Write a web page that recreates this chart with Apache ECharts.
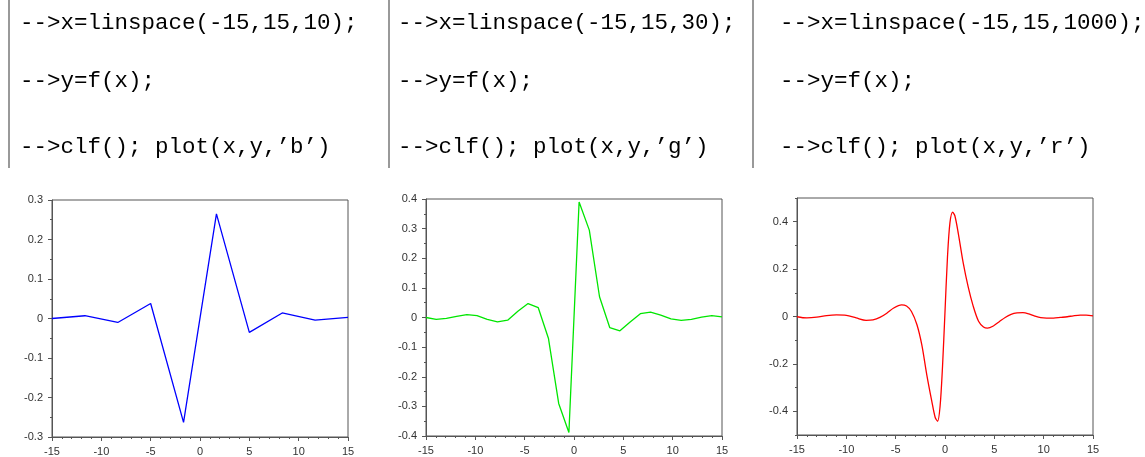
<!DOCTYPE html>
<html>
<head>
<meta charset="utf-8">
<title>linspace plots</title>
<script src="https://cdn.jsdelivr.net/npm/echarts@6/dist/echarts.min.js"></script>
<style>
  html, body { margin: 0; padding: 0; background: #fff; }
  #chart { width: 1145px; height: 457px; }
</style>
</head>
<body>
<div id="chart"></div>
<script>
// code lines above each plot
const codeLines = [
  ['-->x=linspace(-15,15,10);', '-->y=f(x);', '-->clf(); plot(x,y,\u2019b\u2019)'],
  ['-->x=linspace(-15,15,30);', '-->y=f(x);', '-->clf(); plot(x,y,\u2019g\u2019)'],
  ['-->x=linspace(-15,15,1000);', '-->y=f(x);', '-->clf(); plot(x,y,\u2019r\u2019)']
];

// 10 samples (blue)
const xBlue = [-15, -11.667, -8.333, -5, -1.667, 1.667, 5, 8.333, 11.667, 15];
const yBlue = [0.000, 0.007, -0.010, 0.038, -0.263, 0.265, -0.035, 0.014, -0.004, 0.003];

// 30 samples (green)
const xGreen = [-15, -13.966, -12.931, -11.897, -10.862, -9.828, -8.793, -7.759, -6.724, -5.690,
  -4.655, -3.621, -2.586, -1.552, -0.517, 0.517, 1.552, 2.586, 3.621, 4.655,
  5.690, 6.724, 7.759, 8.793, 9.828, 10.862, 11.897, 12.931, 13.966, 15];
const yGreen = [0.000, -0.006, -0.003, 0.004, 0.010, 0.006, -0.006, -0.015, -0.009, 0.021,
  0.047, 0.033, -0.071, -0.290, -0.388, 0.390, 0.295, 0.070, -0.034, -0.045,
  -0.015, 0.013, 0.018, 0.008, -0.005, -0.010, -0.006, 0.001, 0.006, 0.002];

// dense curve (red)
const xRed = [-15, -14, -13, -12, -11, -10, -9, -8, -7.3, -6.6, -5.9, -5.2, -4.4, -3.9, -3.4,
  -2.85, -2.35, -1.85, -1.35, -1.0, -0.75, -0.5, -0.25, 0, 0.25, 0.5, 0.78, 1.0, 1.35,
  1.85, 2.35, 2.85, 3.4, 3.9, 4.3, 4.9, 5.5, 6.1, 6.7, 7.3, 7.9, 8.5, 9.1, 9.7, 10.3,
  11, 11.7, 12.4, 13, 13.7, 14.3, 15];
const yRed = [-0.001, -0.006, -0.003, 0.004, 0.007, 0.005, -0.006, -0.016, -0.014, -0.004, 0.014, 0.036, 0.049, 0.044, 0.021,
  -0.034, -0.120, -0.245, -0.355, -0.425, -0.442, -0.380, -0.210, 0.020, 0.250, 0.395, 0.440, 0.425, 0.350,
  0.225, 0.125, 0.045, -0.020, -0.044, -0.049, -0.040, -0.022, -0.004, 0.009, 0.015, 0.016, 0.011, 0.002, -0.005, -0.007,
  -0.007, -0.004, -0.001, 0.003, 0.006, 0.006, 0.003];

const yLabels3 = [-0.4, -0.2, 0, 0.2, 0.4];

const chart = echarts.init(document.getElementById('chart'));

const axisColor = '#555';
const labelStyle = { color: '#333', fontSize: 11, fontFamily: 'Liberation Sans' };

function pairs(xs, ys) {
  return xs.map((x, i) => [x, ys[i]]);
}

function xAxisFor(gridIndex) {
  return {
    type: 'value', gridIndex: gridIndex, min: -15, max: 15, interval: 5,
    axisLine: { show: true, onZero: false, lineStyle: { color: axisColor } },
    axisTick: { show: true, length: 4, lineStyle: { color: axisColor } },
    minorTick: { show: true, splitNumber: 5, length: 2, lineStyle: { color: axisColor } },
    splitLine: { show: false },
    axisLabel: Object.assign({ margin: 9 }, labelStyle)
  };
}

function yAxisFor(gridIndex, lim, step) {
  return {
    type: 'value', gridIndex: gridIndex, min: -lim, max: lim, interval: step, position: 'left',
    axisLine: { show: true, onZero: false, lineStyle: { color: axisColor } },
    axisTick: { show: true, length: 4, lineStyle: { color: axisColor } },
    minorTick: { show: true, splitNumber: 2, length: 2, lineStyle: { color: axisColor } },
    splitLine: { show: false },
    axisLabel: Object.assign({ margin: 9 }, labelStyle)
  };
}

// graphic: code text and the separator bars
const graphics = [];
const textX = [20, 398, 780];
const textY = [23, 81, 147];
codeLines.forEach((lines, b) => {
  lines.forEach((t, i) => {
    graphics.push({
      type: 'text', x: textX[b], y: textY[i],
      style: { text: t, fill: '#000', font: '22.5px "Liberation Mono"', verticalAlign: 'middle' }
    });
  });
});
[9, 389, 753].forEach(x => {
  graphics.push({
    type: 'line', shape: { x1: x, y1: 0, x2: x, y2: 168 },
    style: { stroke: '#777', lineWidth: 1.5 }
  });
});

// third plot: ticks every 0.1, labels every 0.2
const y3 = yAxisFor(2, 0.5, 0.1);
y3.axisTick.length = 2;
y3.minorTick = { show: false };
y3.axisLabel.formatter = function (v) {
  const k = Math.round(v * 10);
  return (k % 2 === 0 && Math.abs(k) < 5) ? String(k / 10) : '';
};
// longer ticks at the labelled values
const y3Major = {
  type: 'value', gridIndex: 2, min: -0.5, max: 0.5, position: 'left',
  axisLine: { show: false, onZero: false },
  axisTick: { show: true, length: 4, customValues: yLabels3, lineStyle: { color: axisColor } },
  axisLabel: { show: false },
  splitLine: { show: false }
};

const option = {
  animation: false,
  backgroundColor: '#fff',
  graphic: graphics,
  grid: [
    { left: 52, top: 200, width: 296, height: 237, show: true, borderColor: axisColor, borderWidth: 1 },
    { left: 426, top: 199, width: 296, height: 237, show: true, borderColor: axisColor, borderWidth: 1 },
    { left: 797, top: 198, width: 296, height: 237, show: true, borderColor: axisColor, borderWidth: 1 }
  ],
  xAxis: [xAxisFor(0), xAxisFor(1), xAxisFor(2)],
  yAxis: [yAxisFor(0, 0.3, 0.1), yAxisFor(1, 0.4, 0.1), y3, y3Major],
  series: [
    {
      type: 'line', xAxisIndex: 0, yAxisIndex: 0, data: pairs(xBlue, yBlue),
      showSymbol: false, lineStyle: { color: '#0000ff', width: 1.3 }
    },
    {
      type: 'line', xAxisIndex: 1, yAxisIndex: 1, data: pairs(xGreen, yGreen),
      showSymbol: false, lineStyle: { color: '#00e600', width: 1.3 }
    },
    {
      type: 'line', xAxisIndex: 2, yAxisIndex: 2, data: pairs(xRed, yRed),
      showSymbol: false, smooth: 0.3,
      lineStyle: { color: '#ff0000', width: 1.3 }
    }
  ]
};

chart.setOption(option);
</script>
</body>
</html>
